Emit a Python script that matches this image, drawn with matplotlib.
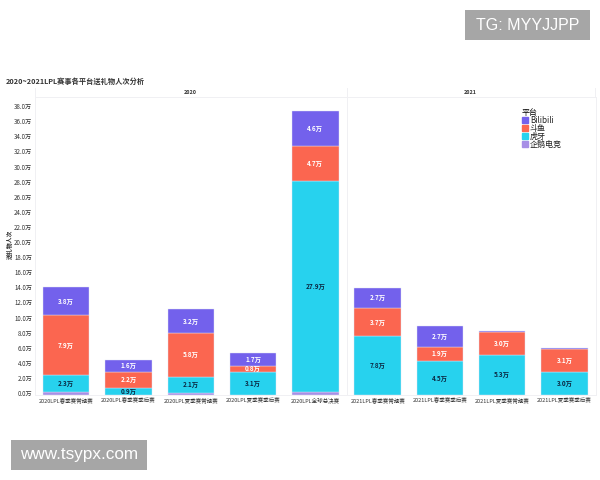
import matplotlib
matplotlib.use("Agg")
import matplotlib.pyplot as plt
from matplotlib.lines import Line2D
from matplotlib.patches import Rectangle, Patch
from matplotlib.transforms import ScaledTranslation

plt.rcParams['font.family'] = ['Noto Sans CJK SC', 'DejaVu Sans']

cats_2020 = ['2020LPL春季赛常规赛', '2020LPL春季赛季后赛', '2020LPL夏季赛常规赛', '2020LPL夏季赛季后赛', '2020LPL全球总决赛']
cats_2021 = ['2021LPL春季赛常规赛', '2021LPL春季赛季后赛', '2021LPL夏季赛常规赛', '2021LPL夏季赛季后赛']

penguin_2020 = [0.35, 0.0, 0.3, 0.0, 0.4]
huya_2020 = [2.3, 0.9, 2.1, 3.1, 27.9]
douyu_2020 = [7.9, 2.2, 5.8, 0.8, 4.7]
bili_2020 = [3.8, 1.6, 3.2, 1.7, 4.6]

penguin_2021 = [0.0, 0.0, 0.0, 0.0]
huya_2021 = [7.8, 4.5, 5.3, 3.0]
douyu_2021 = [3.7, 1.9, 3.0, 3.1]
bili_2021 = [2.7, 2.7, 0.2, 0.1]

y_ticks = list(range(0, 39, 2))
platforms = ['Bilibili', '斗鱼', '虎牙', '企鹅电竞']
colors = {'Bilibili': '#7361EC', '斗鱼': '#FB6650', '虎牙': '#27D2EE', '企鹅电竞': '#A78FE6'}
text_colors = {'Bilibili': '#ffffff', '斗鱼': '#ffffff', '虎牙': '#0b2a44'}

W, H = 600, 480
fig = plt.figure(figsize=(6, 4.8), dpi=100, facecolor='white')
top, base, x0, x1, x2 = 96.5, 395, 35, 346.5, 595.7
ymax = (base - top) / 7.55
ax1 = fig.add_axes([x0 / W, (H - base) / H, (x1 - x0) / W, (base - top) / H])
ax2 = fig.add_axes([x1 / W, (H - base) / H, (x2 - x1) / W, (base - top) / H])


def draw(ax, cats, penguin, huya, douyu, bili):
    xs = list(range(len(cats)))
    bottom = [0.0] * len(cats)
    for name, vals in [('企鹅电竞', penguin), ('虎牙', huya), ('斗鱼', douyu), ('Bilibili', bili)]:
        ax.bar(xs, vals, width=0.746, bottom=bottom, color=colors[name], edgecolor='#dfe3f5', linewidth=0.3, zorder=3)
        if name != '企鹅电竞':
            for x, v, b in zip(xs, vals, bottom):
                if v >= 0.5:
                    ax.text(x, b + v / 2, f'{v:.1f}万', ha='center', va='center', fontsize=4.6,
                            fontweight='bold', color=text_colors[name], zorder=4)
        bottom = [b + v for b, v in zip(bottom, vals)]
    ax.set_xticks(xs)
    ax.set_xticklabels(cats, fontsize=4.0, color='#333333')
    ax.set_xlim(-0.5, len(cats) - 0.5)
    ax.set_ylim(0, ymax)
    ax.tick_params(axis='both', length=0, pad=2)
    for s in ax.spines.values():
        s.set_color('#f0f0f3')
        s.set_linewidth(0.7)


draw(ax1, cats_2020, penguin_2020, huya_2020, douyu_2020, bili_2020)
draw(ax2, cats_2021, penguin_2021, huya_2021, douyu_2021, bili_2021)

ax1.set_yticks(y_ticks)
ax1.set_yticklabels([f'{v:.1f}万' for v in y_ticks], fontsize=4.4, color='#333333')
shift = ScaledTranslation(0, 2.0 / 100, fig.dpi_scale_trans)
for lab in ax1.get_yticklabels():
    lab.set_transform(lab.get_transform() + shift)
ax2.set_yticks([])

# facet header: the panel borders run up past the header rule
for xp in (x0, x1, x2 - 0.5):
    fig.add_artist(Line2D([xp / W, xp / W], [1 - top / H, 1 - 88 / H], transform=fig.transFigure,
                          color='#f0f0f3', linewidth=0.7))

fig.text(10 / W, 1 - 244 / H, '送礼物人次', rotation=90, ha='center', va='center', fontsize=4.2, fontweight='bold', color='#333333')
fig.text(6 / W, 1 - 81 / H, '2020~2021LPL赛事各平台送礼物人次分析', ha='left', va='center', fontsize=5.2, fontweight='bold', color='#333333')
fig.text(190 / W, 1 - 92 / H, '2020', ha='center', va='center', fontsize=3.9, fontweight='bold', color='#333333')
fig.text(470 / W, 1 - 92 / H, '2021', ha='center', va='center', fontsize=3.9, fontweight='bold', color='#333333')

handles = [Patch(color=colors[p]) for p in platforms]
leg = ax2.legend(handles, platforms, title='平台', loc='upper left',
                 bbox_to_anchor=((521.5 - x1) / (x2 - x1), (base - 108) / (base - top)),
                 frameon=False, fontsize=5.8, title_fontsize=5.8, handlelength=0.75, handleheight=0.75,
                 handletextpad=0.3, labelspacing=-0.13, borderpad=0, borderaxespad=0, alignment='left')
for t in leg.get_texts():
    t.set_color('#222222')

for (x, y, w, h, s, fs) in [(465, 10, 125, 30, 'TG: MYYJJPP', 11.5), (11, 440, 136, 30, 'www.tsypx.com', 12.3)]:
    fig.add_artist(Rectangle((x / W, 1 - (y + h) / H), w / W, h / H, transform=fig.transFigure,
                             facecolor='#a6a6a6', edgecolor='none', zorder=10))
    fig.text((x + w / 2) / W, 1 - (y + h / 2) / H, s, ha='center', va='center', fontsize=fs,
             color='white', family='Liberation Sans', zorder=11)

fig.savefig('out.png', dpi=100)
